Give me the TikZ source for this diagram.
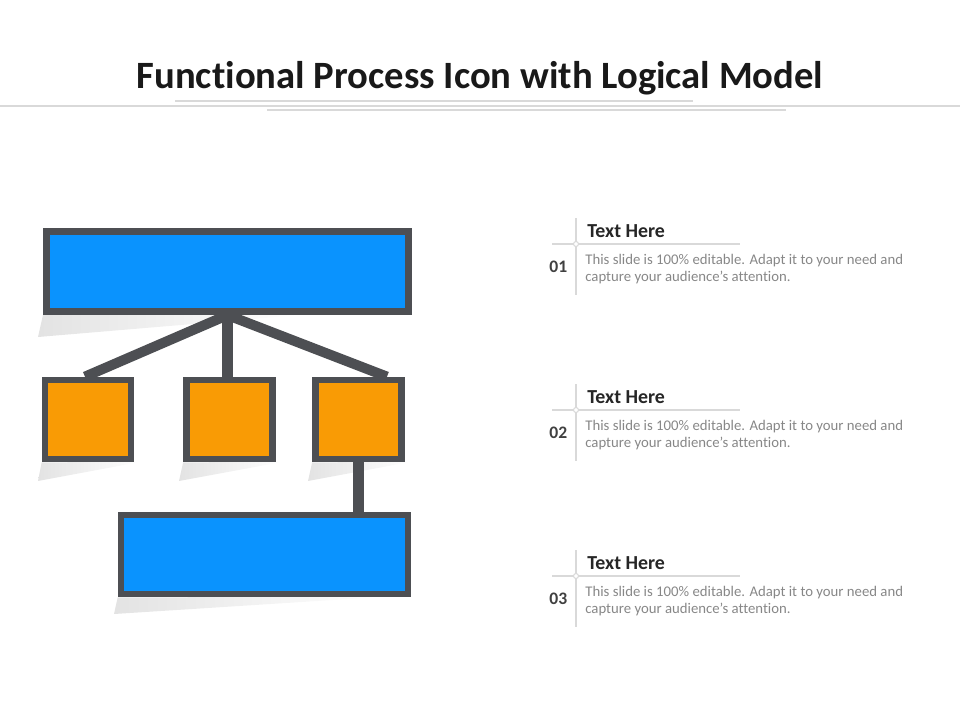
\documentclass[tikz,border=0pt]{standalone}
\usepackage{fontspec}
\setmainfont{Carlito}[Ligatures=CommonOff]
\usepackage{xcolor}
\usetikzlibrary{positioning,backgrounds}

\definecolor{boxblue}{HTML}{0A93FE}
\definecolor{boxorange}{HTML}{F99B05}
\definecolor{edgegray}{HTML}{4D4F53}
\definecolor{rulegray}{HTML}{D9D9D9}
\definecolor{bodygray}{HTML}{878787}

\begin{document}
\begin{tikzpicture}[x=0.02cm,y=-0.02cm]
    \tikzstyle{blk}=[draw=edgegray,line width=3.8pt,fill=boxblue,inner sep=0pt]
    \tikzstyle{sq}=[draw=edgegray,line width=3.8pt,fill=boxorange,minimum width=1.72cm,minimum height=1.58cm,inner sep=0pt]
    \tikzstyle{link}=[draw=edgegray,line width=5.7pt]
    \tikzstyle{floorshade}=[left color=gray!22,right color=white,draw=none]
    \tikzstyle{rule}=[draw=rulegray,line width=0.6pt]
    \tikzstyle{numtxt}=[font=\bfseries\fontsize{10}{11}\selectfont,text=black!75,inner sep=0pt]
    \tikzstyle{headtxt}=[font=\bfseries\fontsize{11.3}{12}\selectfont,text=black!85,inner sep=0pt]
    \tikzstyle{bodytxt}=[font=\fontsize{8.4}{9.6}\selectfont,text=bodygray,align=left,inner sep=0pt]

    \useasboundingbox (0,0) rectangle (960,720);

    % heading
    \node[font=\bfseries\fontsize{22}{26}\selectfont,text=black!90,anchor=base] (title) at (480,88) {Functional Process Icon with Logical Model};
    \draw[rule] (0,106) -- (960,106);
    \draw[rule] (175,101) -- (693,101);
    \draw[rule] (267,110) -- (786,110);

    % the icon
    \node[blk,minimum width=7.25cm,minimum height=1.61cm] (top) at (227.5,271.5) {};
    \node[sq] (l) at (88,419.5) {};
    \node[sq] (m) at (229.5,419.5) {};
    \node[sq] (r) at (358.5,419.5) {};
    \node[blk,minimum width=5.74cm,minimum height=1.58cm] (bot) at (264.5,554.5) {};

    \begin{scope}[on background layer]
        \path[floorshade] (top.south west) -- (300,315) -- (38,337) -- cycle;
        \path[floorshade] (l.south west) -- (140,462) -- (38,481) -- cycle;
        \path[floorshade] (m.south west) -- (282,462) -- (179,481) -- cycle;
        \path[floorshade] (r.south west) -- (410,462) -- (308,481) -- cycle;
        \path[floorshade] (bot.south west) -- (380,597) -- (114,614) -- cycle;
        \draw[link] (top.south) -- ([xshift=-0.06cm]l.north);
        \draw[link] (top.south) -- (top.south |- m.north);
        \draw[link] (top.south) -- ([xshift=0.57cm]r.north);
        \draw[link] (r.south) -- (r.south |- bot.north);
    \end{scope}

    % text blocks
    \foreach \i/\y in {1/0,2/166,3/332}{
        \draw[rule] (576,{218+\y}) -- (576,{295+\y});
        \draw[rule] (552,{244+\y}) -- (740,{244+\y});
        \node[circle,draw=rulegray,fill=white,line width=0.6pt,minimum size=0.1cm,inner sep=0pt] (c\i) at (576,{244+\y}) {};
        \node[headtxt,anchor=base west] (h\i) at (587,{237+\y}) {Text Here};
        \node[numtxt,anchor=base west] (n\i) at (549,{272+\y}) {0\i};
        \node[bodytxt,anchor=north west] (b\i) at (585,{254+\y}) {This slide is 100\% editable. Adapt it to your need and\\capture your audience’s attention.};
    }
\end{tikzpicture}
\end{document}
